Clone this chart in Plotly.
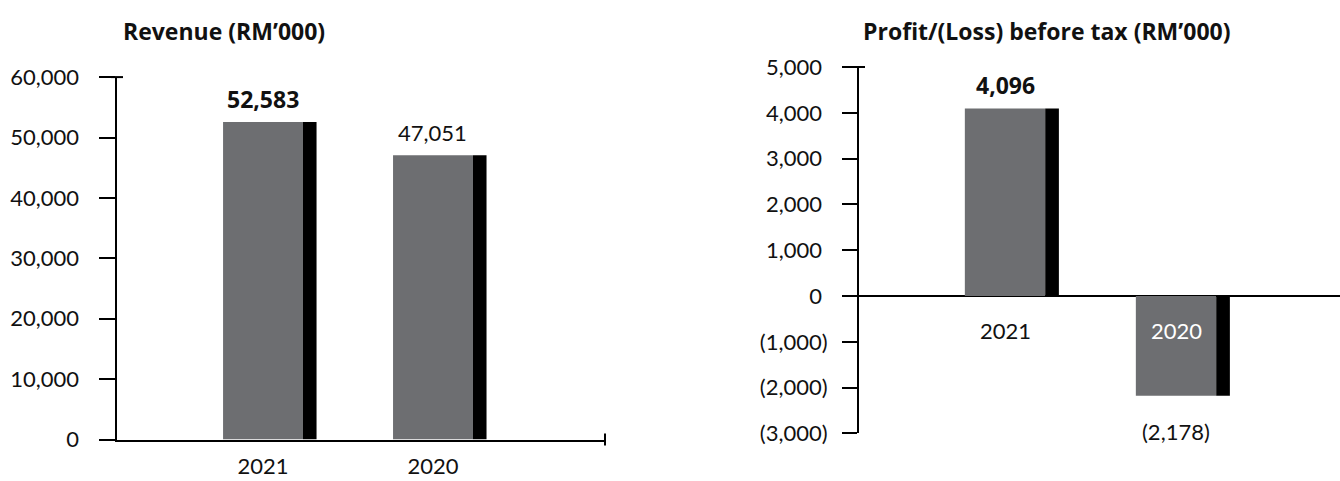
import plotly.graph_objects as go

# ---- data -------------------------------------------------------------
years = ["2021", "2020"]
revenue = [52583, 47051]          # RM'000
pbt = [4096, -2178]               # RM'000
revenue_ticks = [0, 10000, 20000, 30000, 40000, 50000, 60000]
pbt_ticks = [-3000, -2000, -1000, 0, 1000, 2000, 3000, 4000, 5000]

# ---- styling ----------------------------------------------------------
W, H = 1340, 481
BAR = "#6d6e71"
SHADOW = "#000000"
INK = "#111111"
REG = "Lato"
BOLD = "Open Sans"
PAD = "\u00a0"                   # keeps positives aligned with "(…)" labels

GRAY_W, SHADOW_W = 0.47, 0.08


def fmt(v, pad=""):
    s = f"{abs(v):,}"
    return f"({s})" if v < 0 else s + pad


def px(x):
    return x / W


def py(y):
    return 1 - y / H


fig = go.Figure()

# bars: grey face plus a narrow black edge on the right
for xa, ya, vals in (("x", "y", revenue), ("x2", "y2", pbt)):
    fig.add_trace(go.Bar(x=years, y=vals, width=GRAY_W, offset=-GRAY_W / 2,
                         marker=dict(color=BAR, line=dict(width=0)),
                         xaxis=xa, yaxis=ya, hoverinfo="skip"))
    fig.add_trace(go.Bar(x=years, y=vals, width=SHADOW_W, offset=GRAY_W / 2,
                         marker=dict(color=SHADOW, line=dict(width=0)),
                         xaxis=xa, yaxis=ya, hoverinfo="skip"))

axis_common = dict(showgrid=False, linecolor="black", linewidth=2,
                   tickcolor="black", tickwidth=2, automargin=False,
                   tickfont=dict(family=REG, size=22, color=INK))

fig.update_layout(
    width=W, height=H,
    margin=dict(l=0, r=0, t=0, b=0, autoexpand=False),
    paper_bgcolor="white", plot_bgcolor="white",
    showlegend=False, barmode="overlay",
    xaxis=dict(domain=[px(117), px(605)], anchor="y", type="category",
               categoryorder="array", categoryarray=years,
               range=[-0.859, 2.012], showline=True, ticks="",
               ticklabelstandoff=6, zeroline=False, **axis_common),
    yaxis=dict(domain=[py(439.5), py(77.1)], anchor="x", range=[0, 60000],
               tickvals=revenue_ticks,
               ticktext=[fmt(v, PAD) for v in revenue_ticks],
               showline=True, ticks="outside", ticklen=16,
               ticklabelstandoff=10, zeroline=False, **axis_common),
    xaxis2=dict(domain=[px(859), 1.0], anchor="y2", type="category",
                categoryorder="array", categoryarray=years,
                range=[-0.854, 1.959], showline=False, ticks="",
                showticklabels=False, zeroline=False, **axis_common),
    yaxis2=dict(domain=[py(433.4), py(67)], anchor="x2", range=[-3000, 5000],
                tickvals=pbt_ticks,
                ticktext=[fmt(v, PAD) for v in pbt_ticks],
                showline=True, ticks="outside", ticklen=15,
                ticklabelstandoff=10, zeroline=True, zerolinecolor="black",
                zerolinewidth=2, **axis_common),
)

# axis end caps
cap = dict(type="line", line=dict(color="black", width=2))
fig.add_shape(**cap, xref="x domain", yref="y domain", xsizemode="pixel",
              xanchor=0, x0=-6, x1=6, y0=1, y1=1)
fig.add_shape(**cap, xref="x domain", yref="y domain", ysizemode="pixel",
              yanchor=0, y0=-6, y1=6, x0=1, x1=1)
fig.add_shape(**cap, xref="x2 domain", yref="y2 domain", xsizemode="pixel",
              xanchor=0, x0=-6, x1=6, y0=1, y1=1)

# value labels (latest year in bold); x given as category index
for xa, ya, vals in (("x", "y", revenue), ("x2", "y2", pbt)):
    for i, v in enumerate(vals):
        bold = i == 0
        fig.add_annotation(
            x=i, y=v, xref=xa, yref=ya, text=fmt(v), showarrow=False,
            xanchor="center", yanchor="middle",
            yshift=23 if v >= 0 else -36,
            font=dict(family=BOLD if bold else REG, size=23 if bold else 22,
                      color=INK, weight="bold" if bold else "normal"))

# year labels sitting on the zero line of the profit chart
for i, (yr, v) in enumerate(zip(years, pbt)):
    fig.add_annotation(
        x=i, y=0, xref="x2", yref="y2", text=yr, showarrow=False,
        xanchor="center", yanchor="middle", yshift=-34,
        font=dict(family=REG, size=22, color="white" if v < 0 else INK))

# chart titles
for cx, title in ((224, "Revenue (RM’000)"),
                  (1047, "Profit/(Loss) before tax (RM’000)")):
    fig.add_annotation(x=px(cx), y=py(31), xref="paper", yref="paper",
                       text=title, showarrow=False, xanchor="center",
                       yanchor="middle",
                       font=dict(family=BOLD, size=23, color=INK,
                                 weight="bold"))

fig.write_html("out.html")
